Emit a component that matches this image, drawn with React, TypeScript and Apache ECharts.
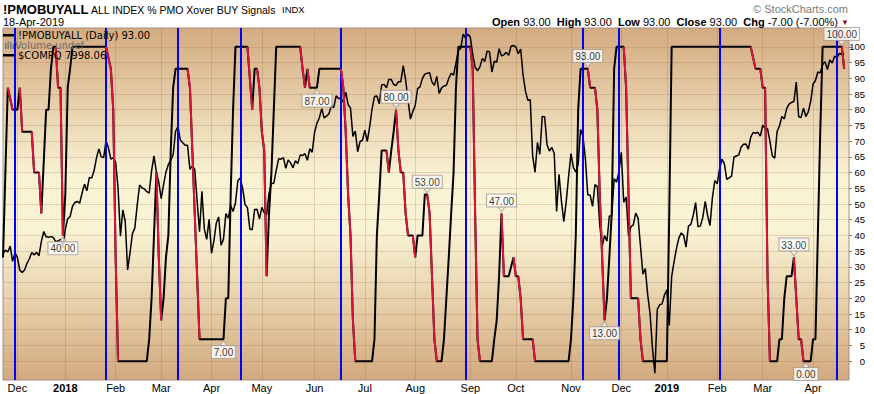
import React, { useEffect, useRef } from 'react';
import * as echarts from 'echarts';

// ---------- calendar ----------
const holidays = [
  '2017-11-23', '2017-12-25', '2018-01-01', '2018-01-15', '2018-02-19', '2018-03-30',
  '2018-05-28', '2018-07-04', '2018-09-03', '2018-11-22', '2018-12-05', '2018-12-25',
  '2019-01-01', '2019-01-21', '2019-02-18', '2019-04-19',
];
const firstDay = [2017, 10, 22];
const lastDay = [2019, 3, 18];
const padDays = ['2019-04-22', '2019-04-23'];

function buildTradingDays(): string[] {
  const out: string[] = [];
  let t = Date.UTC(firstDay[0], firstDay[1], firstDay[2]);
  const end = Date.UTC(lastDay[0], lastDay[1], lastDay[2]);
  while (t <= end) {
    const d = new Date(t);
    const wd = d.getUTCDay();
    const s = d.toISOString().slice(0, 10);
    if (wd !== 0 && wd !== 6 && holidays.indexOf(s) < 0) out.push(s);
    t += 86400000;
  }
  return out;
}
const tradingDays = buildTradingDays();
const categories = [...tradingDays, ...padDays];

// ---------- $COMPQ daily closes (one per trading day) ----------
const compqClose = [
  // Nov 2017 (from 22nd)
  6867, 6889, 6878, 6912, 6825, 6874,
  // Dec 2017
  6848, 6775, 6763, 6776, 6813, 6840, 6875, 6862, 6876, 6857, 6937, 6994, 6964, 6961, 6965, 6960, 6937, 6940, 6950, 6903,
  // Jan 2018
  7007, 7066, 7078, 7137, 7158, 7164, 7154, 7212, 7262, 7224, 7299, 7297, 7337, 7409, 7461, 7416, 7412, 7506, 7467, 7403, 7411,
  // Feb 2018
  7386, 7241, 6968, 7116, 7052, 6777, 6874, 6982, 7013, 7143, 7257, 7240, 7235, 7219, 7211, 7337, 7422, 7330, 7273,
  // Mar 2018
  7180, 7258, 7331, 7373, 7397, 7428, 7561, 7588, 7511, 7496, 7482, 7482, 7345, 7365, 7346, 7167, 6993, 7221, 7009, 6950, 7063,
  // Apr 2018
  6871, 6941, 7042, 7076, 6916, 6951, 7095, 7070, 7141, 7107, 7157, 7281, 7296, 7238, 7146, 7129, 7008, 7004, 7119, 7120, 7066,
  // May 2018
  7131, 7101, 7088, 7210, 7266, 7267, 7340, 7405, 7403, 7412, 7351, 7399, 7382, 7354, 7394, 7378, 7426, 7424, 7434, 7397, 7462, 7442,
  // Jun 2018
  7554, 7607, 7637, 7689, 7636, 7646, 7660, 7704, 7695, 7761, 7746, 7748, 7725, 7782, 7712, 7692, 7532, 7562, 7445, 7503, 7510,
  // Jul 2018
  7567, 7503, 7586, 7688, 7757, 7760, 7716, 7823, 7826, 7806, 7855, 7854, 7825, 7820, 7841, 7841, 7932, 7852, 7737, 7630, 7672,
  // Aug 2018
  7707, 7802, 7812, 7860, 7884, 7889, 7892, 7839, 7820, 7871, 7775, 7806, 7817, 7821, 7859, 7889, 7878, 7946, 8018, 8031, 8110, 8088, 8110,
  // Sep 2018
  8092, 7996, 7923, 7903, 7925, 7973, 7955, 8014, 8010, 7896, 7957, 7951, 8028, 7987, 7993, 8007, 7990, 8042, 8046,
  // Oct 2018
  8037, 7999, 8026, 7879, 7788, 7736, 7739, 7422, 7329, 7497, 7431, 7645, 7643, 7485, 7449, 7469, 7437, 7108, 7318, 7167, 7050, 7162, 7306,
  // Nov 2018
  7434, 7357, 7329, 7376, 7571, 7531, 7407, 7201, 7200, 7136, 7259, 7248, 7028, 6909, 6972, 6939, 7082, 7082, 7292, 7274, 7331,
  // Dec 2018
  7442, 7159, 7189, 6970, 7021, 7032, 7098, 7070, 6911, 6753, 6784, 6637, 6529, 6333, 6193, 6554, 6580, 6585, 6635,
  // Jan 2019
  6665, 6463, 6739, 6823, 6897, 6957, 6986, 6971, 6906, 7024, 7034, 7085, 7157, 7021, 7026, 7074, 7165, 7086, 7028, 7184, 7282,
  // Feb 2019
  7264, 7348, 7403, 7376, 7289, 7298, 7307, 7415, 7421, 7427, 7472, 7487, 7489, 7460, 7528, 7554, 7550, 7555, 7533,
  // Mar 2019
  7595, 7577, 7576, 7505, 7421, 7409, 7559, 7592, 7644, 7631, 7689, 7714, 7724, 7729, 7839, 7643, 7638, 7692, 7644, 7670, 7729,
  // Apr 2019
  7828, 7848, 7896, 7891, 7939, 7954, 7910, 7964, 7947, 7985, 7976, 8001, 7996, 7998,
];

// ---------- !PMOBUYALL (turning points) ----------
const pmoPoints: [string, number][] = [
  ['2017-11-22', 33], ['2017-11-24', 60], ['2017-11-27', 87], ['2017-11-29', 80], ['2017-12-01', 80],
  ['2017-12-04', 87], ['2017-12-05', 73], ['2017-12-11', 73], ['2017-12-12', 60], ['2017-12-14', 60],
  ['2017-12-15', 47], ['2017-12-19', 80], ['2017-12-20', 80], ['2017-12-21', 93], ['2017-12-22', 100],
  ['2017-12-26', 100], ['2017-12-27', 87], ['2017-12-28', 87], ['2017-12-29', 40], ['2018-01-02', 53],
  ['2018-01-03', 87], ['2018-01-04', 93], ['2018-01-05', 100], ['2018-01-26', 100], ['2018-01-30', 93],
  ['2018-01-31', 80], ['2018-02-01', 33], ['2018-02-02', 0], ['2018-02-21', 0], ['2018-02-22', 7],
  ['2018-02-23', 20], ['2018-02-26', 40], ['2018-02-27', 60], ['2018-02-28', 33], ['2018-03-01', 13],
  ['2018-03-02', 20], ['2018-03-05', 33], ['2018-03-06', 40], ['2018-03-07', 67], ['2018-03-08', 87],
  ['2018-03-09', 93], ['2018-03-16', 93], ['2018-03-19', 87], ['2018-03-20', 67], ['2018-03-21', 47],
  ['2018-03-22', 27], ['2018-03-23', 7], ['2018-04-09', 7], ['2018-04-10', 20], ['2018-04-11', 20],
  ['2018-04-12', 53], ['2018-04-13', 80], ['2018-04-16', 100], ['2018-04-23', 100], ['2018-04-25', 80],
  ['2018-04-26', 93], ['2018-04-27', 93], ['2018-04-30', 87], ['2018-05-01', 73], ['2018-05-02', 67],
  ['2018-05-03', 27], ['2018-05-04', 47], ['2018-05-07', 60], ['2018-05-08', 80], ['2018-05-09', 100],
  ['2018-05-23', 100], ['2018-05-24', 93], ['2018-05-25', 87], ['2018-05-29', 93], ['2018-05-30', 87],
  ['2018-06-04', 87], ['2018-06-05', 93], ['2018-06-18', 93], ['2018-06-19', 87], ['2018-06-20', 73],
  ['2018-06-21', 53], ['2018-06-22', 40], ['2018-06-25', 13], ['2018-06-26', 0], ['2018-07-06', 0],
  ['2018-07-09', 7], ['2018-07-10', 40], ['2018-07-11', 53], ['2018-07-12', 67], ['2018-07-16', 67],
  ['2018-07-17', 60], ['2018-07-18', 67], ['2018-07-19', 73], ['2018-07-20', 80], ['2018-07-23', 67],
  ['2018-07-24', 60], ['2018-07-25', 60], ['2018-07-26', 47], ['2018-07-27', 40], ['2018-07-31', 40],
  ['2018-08-01', 33], ['2018-08-02', 40], ['2018-08-06', 40], ['2018-08-07', 53], ['2018-08-08', 53],
  ['2018-08-09', 47], ['2018-08-10', 27], ['2018-08-13', 7], ['2018-08-14', 0], ['2018-08-16', 0],
  ['2018-08-17', 7], ['2018-08-20', 20], ['2018-08-21', 33], ['2018-08-22', 47], ['2018-08-23', 60],
  ['2018-08-24', 87], ['2018-08-27', 100], ['2018-09-04', 100], ['2018-09-05', 93], ['2018-09-06', 47],
  ['2018-09-07', 7], ['2018-09-10', 0], ['2018-09-17', 0], ['2018-09-18', 7], ['2018-09-19', 13],
  ['2018-09-20', 27], ['2018-09-21', 47], ['2018-09-24', 27], ['2018-09-26', 27], ['2018-09-28', 33],
  ['2018-10-01', 27], ['2018-10-02', 27], ['2018-10-03', 20], ['2018-10-04', 7], ['2018-10-10', 7],
  ['2018-10-11', 0], ['2018-10-31', 0], ['2018-11-01', 7], ['2018-11-02', 20], ['2018-11-05', 40],
  ['2018-11-06', 80], ['2018-11-07', 93], ['2018-11-12', 93], ['2018-11-13', 87], ['2018-11-15', 87],
  ['2018-11-16', 80], ['2018-11-19', 53], ['2018-11-20', 33], ['2018-11-21', 13], ['2018-11-23', 20],
  ['2018-11-26', 33], ['2018-11-27', 47], ['2018-11-28', 93], ['2018-11-29', 100], ['2018-12-04', 100],
  ['2018-12-06', 87], ['2018-12-07', 53], ['2018-12-10', 20], ['2018-12-13', 20], ['2018-12-14', 7],
  ['2018-12-17', 0], ['2019-01-02', 0], ['2019-01-03', 47], ['2019-01-04', 100], ['2019-02-22', 100],
  ['2019-02-26', 93], ['2019-02-28', 93], ['2019-03-01', 87], ['2019-03-04', 87], ['2019-03-05', 27],
  ['2019-03-06', 0], ['2019-03-11', 0], ['2019-03-12', 7], ['2019-03-13', 7], ['2019-03-14', 20],
  ['2019-03-15', 27], ['2019-03-19', 27], ['2019-03-20', 33], ['2019-03-21', 20], ['2019-03-22', 7],
  ['2019-03-25', 7], ['2019-03-26', 0], ['2019-03-29', 0], ['2019-04-01', 7], ['2019-04-02', 7],
  ['2019-04-03', 40], ['2019-04-04', 73], ['2019-04-05', 100], ['2019-04-17', 100], ['2019-04-18', 93],
];

// vertical blue signal lines
const signalDates = [
  '2017-11-30', '2018-01-26', '2018-03-12', '2018-04-18', '2018-06-18',
  '2018-08-30', '2018-11-08', '2018-11-30', '2019-02-04', '2019-04-15',
];

// value call-outs
const peakNotes: [string, number][] = [
  ['2018-07-20', 80], ['2018-08-08', 53], ['2018-09-21', 47], ['2018-11-12', 93],
  ['2019-03-20', 33], ['2019-04-17', 100],
];
const troughNotes: [string, number][] = [
  ['2017-12-29', 40], ['2018-04-09', 7], ['2018-06-04', 87], ['2018-11-21', 13], ['2019-03-27', 0],
];

const yTicks = [0, 5, 10, 15, 20, 25, 30, 35, 40, 45, 50, 55, 60, 65, 70, 75, 80, 85, 90, 95, 100];
const monthNames = ['Jan', 'Feb', 'Mar', 'Apr', 'May', 'Jun', 'Jul', 'Aug', 'Sep', 'Oct', 'Nov', 'Dec'];

const FONT = '"Liberation Sans", Arial, sans-serif';
const LEGEND_FONT = '"DejaVu Sans", Verdana, sans-serif';
const GRID_COLOR = 'rgba(140, 100, 60, 0.22)';
const RED = '#d8143c';

function isMonthStart(i: number): boolean {
  if (i <= 0 || i >= tradingDays.length) return false;
  return categories[i].slice(5, 7) !== categories[i - 1].slice(5, 7);
}

function buildRedRuns(): [string, number][][] {
  const runs: [string, number][][] = [];
  let run: [string, number][] | null = null;
  for (let i = 0; i < pmoPoints.length - 1; i++) {
    if (pmoPoints[i + 1][1] < pmoPoints[i][1]) {
      if (!run) {
        run = [pmoPoints[i]];
        runs.push(run);
      }
      run.push(pmoPoints[i + 1]);
    } else {
      run = null;
    }
  }
  return runs;
}

export default function App() {
  const ref = useRef<HTMLDivElement>(null);
  useEffect(() => {
    document.body.style.margin = '0';
    if (!ref.current) return;
    const chart = echarts.init(ref.current, undefined, { renderer: 'svg' });

    const redRuns = buildRedRuns();
    const noteLabel = {
      show: true,
      formatter: (p: any) => Number(p.value[1]).toFixed(2),
      fontSize: 10,
      fontFamily: FONT,
      color: '#000',
      backgroundColor: '#ffffff',
      borderColor: '#a89c94',
      borderWidth: 1,
      padding: [1, 2, 0, 2],
      lineHeight: 11,
    };
    const legendText = (text: string, x: number, y: number, fill: string) => ({
      type: 'text', x, y, z: 20,
      style: { text, font: '10px ' + LEGEND_FONT, fill, verticalAlign: 'middle', lineHeight: 9 },
    });

    const option: any = {
      animation: false,
      backgroundColor: '#ffffff',
      textStyle: { fontFamily: FONT },
      grid: {
        left: 3,
        right: 25,
        top: 28,
        bottom: 14,
        show: true,
        borderColor: '#a58e84',
        borderWidth: 1,
        backgroundColor: new echarts.graphic.LinearGradient(0, 0, 0, 1, [
          { offset: 0, color: '#d4ab80' },
          { offset: 0.42, color: '#f9f2d3' },
          { offset: 0.58, color: '#f9f2d3' },
          { offset: 1, color: '#d3aa7e' },
        ]),
      },
      xAxis: {
        type: 'category',
        data: categories,
        boundaryGap: false,
        axisLine: { show: false },
        axisTick: { show: false },
        axisLabel: {
          interval: (i: number) => isMonthStart(i),
          margin: 2,
          fontSize: 11,
          color: '#000',
          fontFamily: FONT,
          formatter: (v: string) => {
            const m = Number(v.slice(5, 7)) - 1;
            return m === 0 ? '{yr|' + v.slice(0, 4) + '}' : monthNames[m];
          },
          rich: { yr: { fontWeight: 'bold', fontSize: 11, fontFamily: FONT, color: '#000' } },
        },
        splitLine: {
          show: true,
          interval: (i: number) => isMonthStart(i),
          lineStyle: { color: GRID_COLOR, width: 1 },
        },
      },
      yAxis: [
        {
          type: 'value',
          position: 'right',
          min: -6,
          max: 106,
          axisLine: { show: false },
          axisTick: { show: true, length: 3, customValues: yTicks, lineStyle: { color: '#8a7a70' } },
          axisLabel: {
            customValues: yTicks,
            align: 'right',
            margin: 16,
            fontSize: 9.5,
            color: '#000',
            fontFamily: FONT,
          },
          splitLine: { show: true, lineStyle: { color: GRID_COLOR, width: 1 } },
        },
        {
          type: 'value',
          min: 6154.5,
          max: 8144.7,
          show: false,
          splitLine: { show: false },
        },
      ],
      series: [
        {
          name: '$COMPQ',
          type: 'line',
          yAxisIndex: 1,
          data: compqClose,
          symbol: 'none',
          z: 3,
          lineStyle: { color: '#000', width: 1.5 },
        },
        {
          name: '!PMOBUYALL',
          type: 'line',
          data: pmoPoints,
          symbol: 'none',
          z: 4,
          lineStyle: { color: '#000', width: 2 },
        },
        ...redRuns.map((run, k) => ({
          name: 'down' + k,
          type: 'line',
          data: run,
          symbol: 'none',
          z: 5,
          lineStyle: { color: RED, width: 2 },
        })),
        {
          name: 'signals',
          type: 'line',
          data: [],
          z: 6,
          markLine: {
            silent: true,
            symbol: ['none', 'none'],
            label: { show: false },
            lineStyle: { color: '#0000ff', width: 2, type: 'solid' },
            data: signalDates.map((d) => ({ xAxis: d })),
          },
        },
        {
          name: 'peaks',
          type: 'scatter',
          data: peakNotes,
          z: 10,
          symbol: 'triangle',
          symbolSize: [7, 5],
          symbolRotate: 180,
          symbolOffset: [0, -4],
          itemStyle: { color: '#f4f0ec', borderColor: '#a89c94', borderWidth: 1 },
          label: { ...noteLabel, position: 'top', distance: 0 },
        },
        {
          name: 'troughs',
          type: 'scatter',
          data: troughNotes,
          z: 10,
          symbol: 'triangle',
          symbolSize: [7, 5],
          symbolOffset: [0, 4],
          itemStyle: { color: '#f4f0ec', borderColor: '#a89c94', borderWidth: 1 },
          label: { ...noteLabel, position: 'bottom', distance: 0 },
        },
      ],
      graphic: [
        {
          type: 'text', x: 3, y: 9,
          style: { text: '!PMOBUYALL', font: 'bold 13px ' + FONT, fill: '#000', verticalAlign: 'middle' },
        },
        {
          type: 'text', x: 91, y: 9.5,
          style: { text: 'ALL INDEX % PMO Xover BUY Signals', font: '10.5px ' + FONT, fill: '#000', verticalAlign: 'middle' },
        },
        {
          type: 'text', x: 282, y: 9.5,
          style: { text: 'INDX', font: '9.5px ' + FONT, fill: '#000', verticalAlign: 'middle' },
        },
        {
          type: 'text', x: 3, y: 22,
          style: { text: '18-Apr-2019', font: '11px ' + FONT, fill: '#000', verticalAlign: 'middle' },
        },
        {
          type: 'text', x: 848, y: 9,
          style: { text: '© StockCharts.com', font: '11px ' + FONT, fill: '#7a7a7a', align: 'right', verticalAlign: 'middle' },
        },
        {
          type: 'text', x: 838, y: 22,
          style: {
            text: '{b|Open} 93.00  {b|High} 93.00  {b|Low} 93.00  {b|Close} 93.00  {b|Chg} -7.00 (-7.00%)',
            font: '11px ' + FONT,
            fill: '#000',
            align: 'right',
            verticalAlign: 'middle',
            rich: { b: { font: 'bold 11px ' + FONT, fill: '#000' } },
          },
        },
        {
          type: 'text', x: 841, y: 22,
          style: { text: '▼', font: '8px ' + FONT, fill: '#8c0a2a', verticalAlign: 'middle' },
        },
        // legend
        { type: 'rect', shape: { x: 3, y: 34, width: 11, height: 2.5 }, style: { fill: '#000' }, z: 20 },
        legendText('!PMOBUYALL (Daily) 93.00', 18, 35.5, '#000'),
        { type: 'rect', shape: { x: 5, y: 43, width: 1.5, height: 6 }, style: { fill: '#7a7a7a' }, z: 20 },
        { type: 'rect', shape: { x: 7.5, y: 41, width: 1.5, height: 8 }, style: { fill: '#7a7a7a' }, z: 20 },
        { type: 'rect', shape: { x: 10, y: 42, width: 1.5, height: 7 }, style: { fill: '#7a7a7a' }, z: 20 },
        { type: 'rect', shape: { x: 12.5, y: 44, width: 1.5, height: 5 }, style: { fill: '#7a7a7a' }, z: 20 },
        legendText('Volume undef', 15, 45.5, '#6e6e6e'),
        { type: 'rect', shape: { x: 3, y: 54, width: 11, height: 2.5 }, style: { fill: '#000' }, z: 20 },
        legendText('$COMPQ 7998.06', 18, 55.5, '#000'),
      ],
    };
    chart.setOption(option);
    return () => chart.dispose();
  }, []);
  return <div ref={ref} style={{ width: 874, height: 394 }} />;
}
